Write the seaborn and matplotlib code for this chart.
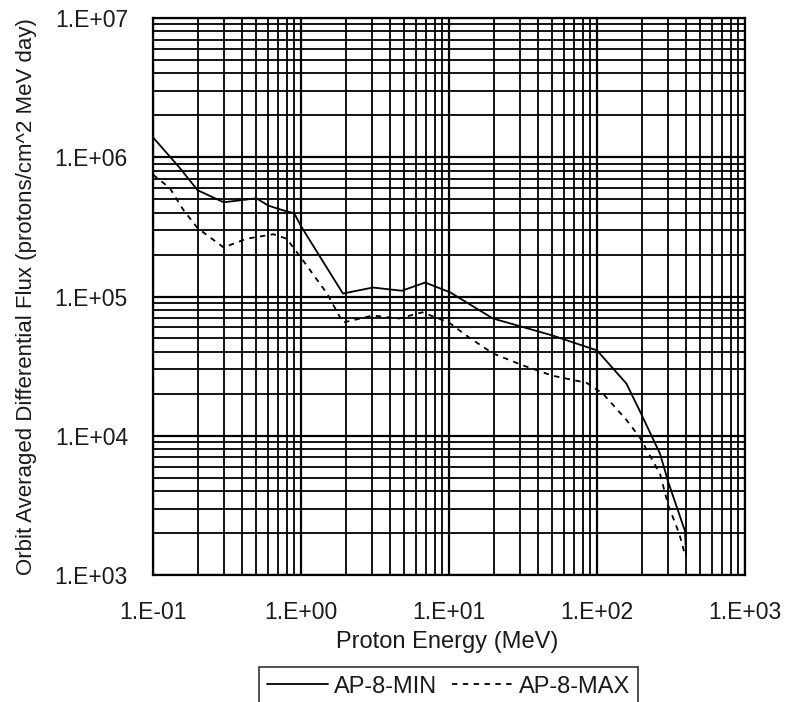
import matplotlib
matplotlib.use("Agg")
import matplotlib.pyplot as plt
import matplotlib.ticker as mticker
from matplotlib.lines import Line2D
import numpy as np
import pandas as pd
import seaborn as sns

min_energy = [0.1, 0.15, 0.2, 0.3, 0.5, 0.6, 0.75, 0.9, 1.0, 1.92, 3.06, 4.8, 6.9, 10.2, 19.8, 50, 100, 158, 195, 267, 302, 393, 400]
min_flux = [1.39e6, 8.5e5, 5.8e5, 4.75e5, 5.07e5, 4.5e5, 4.17e5, 3.96e5, 3.2e5, 1.05e5, 1.16e5, 1.1e5, 1.26e5, 1.07e5, 6.95e4, 5.25e4, 4.1e4, 2.37e4, 1.5e4, 7.4e3, 4.7e3, 2.07e3, 1.4e3]

max_energy = [0.1, 0.13, 0.16, 0.2, 0.3, 0.43, 0.65, 0.8, 1.0, 1.5, 1.92, 3.06, 4.6, 6.6, 10, 13.6, 19.8, 31.6, 50, 85, 110, 158, 195, 267, 302, 360, 393]
max_flux = [7.5e5, 6.0e5, 4.2e5, 3.1e5, 2.25e5, 2.6e5, 2.8e5, 2.6e5, 1.9e5, 1.05e5, 6.5e4, 7.3e4, 6.95e4, 7.7e4, 6.5e4, 5.1e4, 3.9e4, 3.2e4, 2.7e4, 2.4e4, 2.0e4, 1.3e4, 9.7e3, 5.3e3, 3.2e3, 1.97e3, 1.4e3]

series_names = ["AP-8-MIN", "AP-8-MAX"]

df = pd.concat([
    pd.DataFrame({"energy": min_energy, "flux": min_flux, "model": series_names[0]}),
    pd.DataFrame({"energy": max_energy, "flux": max_flux, "model": series_names[1]}),
], ignore_index=True)

sns.set_theme(style="white")
plt.rcParams["font.family"] = ["Liberation Sans", "DejaVu Sans"]

TXT = "#1a1a1a"
fig = plt.figure(figsize=(7.87, 7.02), dpi=100)
ax = fig.add_axes([153 / 787, 1 - 575 / 702, 592 / 787, 557 / 702])

sns.lineplot(data=df, x="energy", y="flux", hue="model", style="model",
             palette={"AP-8-MIN": "black", "AP-8-MAX": "black"},
             dashes={"AP-8-MIN": "", "AP-8-MAX": (3, 3)},
             linewidth=1.3, estimator=None, sort=False, ax=ax, legend=False, zorder=5)

ax.set_xscale("log")
ax.set_yscale("log")
ax.set_xlim(0.1, 1000)
ax.set_ylim(1e3, 1e7)

def fmt(v, pos):
    e = int(round(np.log10(v)))
    return "1.E%s%02d" % ("+" if e >= 0 else "-", abs(e))

ax.xaxis.set_major_locator(mticker.LogLocator(base=10, numticks=10))
ax.yaxis.set_major_locator(mticker.LogLocator(base=10, numticks=10))
ax.xaxis.set_major_formatter(mticker.FuncFormatter(fmt))
ax.yaxis.set_major_formatter(mticker.FuncFormatter(fmt))
ax.xaxis.set_minor_locator(mticker.LogLocator(base=10, subs=np.arange(2, 10), numticks=20))
ax.yaxis.set_minor_locator(mticker.LogLocator(base=10, subs=np.arange(2, 10), numticks=20))
ax.xaxis.set_minor_formatter(mticker.NullFormatter())
ax.yaxis.set_minor_formatter(mticker.NullFormatter())

ax.grid(True, which="major", color="black", linewidth=1.6)
ax.grid(True, which="minor", color="black", linewidth=1.3)
ax.tick_params(which="both", length=0, labelsize=16.5, colors=TXT)
ax.tick_params(axis="y", pad=18)
ax.tick_params(axis="x", pad=19)
for s in ax.spines.values():
    s.set_color("black")
    s.set_linewidth(1.6)

ax.set_xlabel("Proton Energy (MeV)", fontsize=17, color=TXT)
ax.set_ylabel("Orbit Averaged Differential Flux (protons/cm^2 MeV day)", fontsize=16, color=TXT)
ax.xaxis.set_label_coords(0.497, -0.100)
ax.yaxis.set_label_coords(-0.196, 0.50)

handles = [Line2D([0], [0], color="black", lw=1.3),
           Line2D([0], [0], color="black", lw=1.3, dashes=(3, 3))]
leg = fig.legend(handles, series_names, loc="center", bbox_to_anchor=(0.570, 0.022),
                 ncol=2, frameon=True, fancybox=False, fontsize=17,
                 handlelength=2.6, columnspacing=0.6, handletextpad=0.25,
                 borderpad=0.35, labelcolor=TXT)
leg.get_frame().set_edgecolor("black")
leg.get_frame().set_linewidth(1.2)

fig.savefig("out.png", dpi=100)
